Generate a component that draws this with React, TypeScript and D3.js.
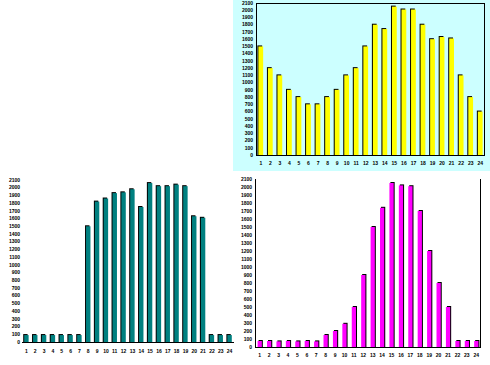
import React from 'react';
import * as d3 from 'd3';

const categories = ['1', '2', '3', '4', '5', '6', '7', '8', '9', '10', '11', '12',
  '13', '14', '15', '16', '17', '18', '19', '20', '21', '22', '23', '24'];

const yTicks = [0, 100, 200, 300, 400, 500, 600, 700, 800, 900, 1000,
  1100, 1200, 1300, 1400, 1500, 1600, 1700, 1800, 1900, 2000, 2100];

const yellowValues = [1500, 1200, 1100, 900, 800, 700, 700, 800, 900, 1100, 1200, 1500,
  1800, 1740, 2050, 2010, 2010, 1800, 1600, 1630, 1610, 1100, 800, 600];

const tealValues = [90, 90, 90, 90, 90, 90, 90, 1500, 1820, 1860, 1930, 1940,
  1980, 1750, 2060, 2020, 2020, 2040, 2020, 1630, 1610, 90, 90, 90];

const magentaValues = [75, 75, 70, 75, 70, 75, 70, 150, 200, 290, 500, 900,
  1500, 1740, 2050, 2020, 2010, 1700, 1200, 800, 500, 75, 75, 75];

interface PanelProps {
  values: number[];
  color: string;
  x0: number;
  x1: number;
  y0: number;
  y1: number;
  shadowDx: number;
  frame: 'box' | 'right' | 'none';
  leftAxis: boolean;
  xLabelY: number;
  yLabelX: number;
  padding: number;
}

const Panel: React.FC<PanelProps> = ({ values, color, x0, x1, y0, y1, shadowDx, frame, leftAxis, xLabelY, yLabelX, padding }) => {
  const x = d3.scaleBand<string>().domain(categories).range([x0, x1]).paddingInner(padding).paddingOuter(padding / 2);
  const y = d3.scaleLinear().domain([0, 2100]).range([y1, y0]);
  const font = { fontFamily: 'Liberation Sans, Arial, sans-serif', fontSize: 5, fontWeight: 700 };

  return (
    <g>
      {values.map((v, i) => {
        const bx = x(categories[i])!;
        const by = y(v);
        return (
          <g key={i}>
            <rect x={bx + shadowDx} y={by - 1} width={x.bandwidth()} height={y1 - by + 1} fill="#000" />
            <rect x={bx} y={by} width={x.bandwidth()} height={y1 - by} fill={color} />
          </g>
        );
      })}
      <line x1={x0} x2={x1} y1={y1 + 0.5} y2={y1 + 0.5} stroke="#000" strokeWidth={1} />
      {leftAxis && <line x1={x0 + 0.5} x2={x0 + 0.5} y1={y0} y2={y1} stroke="#000" strokeWidth={1} />}
      {frame === 'box' && <line x1={x0} x2={x1} y1={y0 + 0.5} y2={y0 + 0.5} stroke="#000" strokeWidth={1} />}
      {frame !== 'none' && <line x1={x1 - 0.5} x2={x1 - 0.5} y1={y0} y2={y1} stroke="#000" strokeWidth={1} />}
      {yTicks.map(t => (
        <text key={t} x={yLabelX} y={y(t)} dy="0.35em" textAnchor="end" fill="#000" style={font}>{t}</text>
      ))}
      {categories.map(c => (
        <text key={c} x={x(c)! + x.bandwidth() / 2} y={xLabelY} dy="0.35em" textAnchor="middle" fill="#000" style={font}>{c}</text>
      ))}
    </g>
  );
};

export default function App() {
  return (
    <svg width={490} height={365} style={{ position: 'absolute', left: 0, top: 0, background: '#fff' }}>
      <rect x={233} y={0} width={257} height={171} fill="#CCFFFF" />
      <Panel values={yellowValues} color="#FFFF00" x0={256} x1={485} y0={3} y1={155}
        shadowDx={-1} frame="box" leftAxis={true} xLabelY={163} yLabelX={253} padding={0.5} />
      <Panel values={tealValues} color="#008080" x0={22} x1={234} y0={180} y1={342}
        shadowDx={-1} frame="none" leftAxis={false} xLabelY={351} yLabelX={20} padding={0.5} />
      <Panel values={magentaValues} color="#FF00FF" x0={255} x1={481} y0={179} y1={347}
        shadowDx={1} frame="right" leftAxis={true} xLabelY={355} yLabelX={252} padding={0.55} />
    </svg>
  );
}
